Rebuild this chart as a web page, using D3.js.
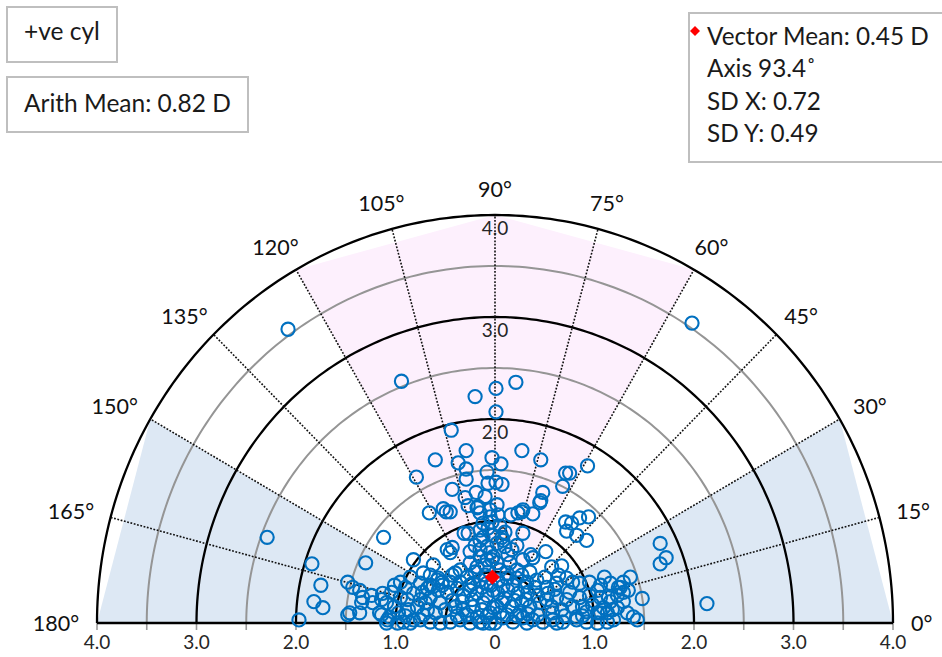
<!DOCTYPE html>
<html>
<head>
<meta charset="utf-8">
<script src="https://cdn.jsdelivr.net/npm/d3@7"></script>
<style>
  body { margin: 0; background: #fff; }
  svg { display: block; font-family: Lato, "Open Sans", sans-serif; }
</style>
</head>
<body>
<svg id="chart" width="942" height="657"></svg>
<script>
// Rings of the polar grid (dioptres); 0.5 and whole dioptres are black, the halves grey
const ringValues = [0.5, 1, 1.5, 2, 2.5, 3, 3.5, 4];
const blackRings = [0.5, 1, 2, 3, 4];
// Dotted spokes and axis labels (degrees)
const spokeAngles = [15, 30, 45, 60, 75, 90, 105, 120, 135, 150, 165];
const angleLabels = [0, 15, 30, 45, 60, 75, 90, 105, 120, 135, 150, 165, 180];
// Labels along the 90° spoke
const radialLabels = [1, 2, 3, 4];
// Horizontal axis ticks and labels
const axisTicks = [-4, -3.5, -3, -2.5, -2, -1.5, -1, -0.5, 0, 0.5, 1, 1.5, 2, 2.5, 3, 3.5, 4];
const axisLabelValues = [-4, -3, -2, -1, 0, 1, 2, 3, 4];
const axisLabelText = ["4.0", "3.0", "2.0", "1.0", "0", "1.0", "2.0", "3.0", "4.0"];
// Shaded sectors [from, to] in degrees
const blueSectors = [[0, 30], [150, 180]];
const pinkSectors = [[60, 120]];

// Cylinder vectors: [horizontal, vertical] components in dioptres
const cylPoints = [
  [-2.08,2.88],[1.98,2.94],[-0.94,2.37],[0.21,2.36],[0.01,2.30],[-0.20,2.22],[0.01,2.07],[-0.44,1.89],
  [-0.29,1.69],[-0.60,1.60],[0.27,1.69],[0.46,1.60],[-0.03,1.62],[-0.37,1.57],[0.06,1.56],[-0.29,1.51],
  [-0.08,1.48],[-0.79,1.43],[-0.29,1.41],[0.93,1.54],[0.71,1.47],[0.75,1.47],[0.68,1.34],[-0.07,1.37],
  [0.01,1.38],[0.07,1.36],[-0.43,1.31],[-0.19,1.28],[0.48,1.28],[-0.30,1.23],[-0.10,1.24],
  [-2.29,0.84],[-1.12,0.84],[1.66,0.78],[1.72,0.64],[1.66,0.58],[2.13,0.19],[1.48,0.24],[-1.84,0.58],
  [-1.30,0.59],[-1.75,0.37],[-1.82,0.21],[-1.73,0.15],[-1.97,0.03],
  [-0.27,1.15],[-0.17,1.14],[-0.49,1.09],[-0.66,1.08],[0.46,1.20],[0.27,1.09],[0.38,1.07],[0.16,1.06],
  [-0.05,1.04],[-0.31,0.88],[0.71,0.99],[0.77,0.98],[0.85,1.03],[0.94,1.04],[0.72,0.90],[0.82,0.86],
  [0.92,0.81],[0.28,0.88],[0.51,0.70],[0.36,0.67],[0.22,0.76],[-0.48,0.72],[-0.45,0.69],[-0.82,0.62],
  [-0.62,0.57],[0.57,0.55],[0.67,0.56],[-0.72,0.49],[-0.15,0.81],[-0.08,0.75],[-0.05,0.69],[-0.15,0.65],
  [-0.52,1.12],[-0.45,1.09],[-0.27,0.88],[-0.43,0.74],[-0.35,0.52],[-0.65,0.47],[-0.57,0.44],[-0.53,0.40],
  [-0.40,0.49],
  [-0.18,1.13],[-0.15,1.08],[-0.12,0.98],[-0.15,0.91],[-0.12,0.84],[-0.15,0.72],[-0.08,0.62],[-0.18,0.55],
  [-0.25,0.59],
  [0.45,1.18],[0.28,1.11],[0.03,1.06],[0.23,1.08],[0.17,0.72],[0.10,0.75],[0.02,0.78],[0.07,0.84],
  [0.38,0.64],[0.28,0.62],[-0.02,0.65],[0.02,0.59],[0.15,0.59],[0.22,0.52],
  [0.72,0.44],[0.78,0.40],[0.85,0.39],[0.95,0.40],[1.06,0.37],[1.16,0.39],[1.24,0.35],[0.62,0.39],
  [0.52,0.35],[0.42,0.42],[0.32,0.40],[0.22,0.44],[0.12,0.44],[0.03,0.42],
  [0.75,0.30],[0.85,0.25],[0.95,0.27],[1.06,0.25],[1.14,0.25],[1.23,0.27],[0.62,0.25],[0.53,0.29],
  [0.43,0.27],[0.33,0.30],[0.23,0.29],[0.13,0.32],[0.03,0.29],
  [0.78,0.16],[0.88,0.16],[0.98,0.18],[1.09,0.15],[1.18,0.13],[0.67,0.13],[0.57,0.16],[0.45,0.20],
  [0.35,0.16],[0.27,0.20],[0.17,0.16],[0.07,0.20],[-0.02,0.15],
  [0.68,0.01],[0.82,0.03],[0.92,0.01],[1.03,0.00],[1.13,0.01],[0.58,0.03],[0.48,0.01],[0.38,0.03],
  [0.28,0.05],[0.18,0.01],[0.08,0.05],[0.00,0.00],
  [1.36,0.45],[1.29,0.40],[1.26,0.35],[1.34,0.32],[1.16,0.21],[1.29,0.21],[1.23,0.15],[1.33,0.10],
  [1.39,0.06],[1.43,0.03],[1.13,0.10],[1.19,0.03],[1.03,0.10],[0.92,0.11],
  [1.03,0.32],[0.52,0.23],[0.72,0.23],[0.58,0.10],[0.25,0.10],[0.05,0.10],[-0.12,0.00],[1.06,0.10],
  [0.82,0.06],[0.62,0.00],[0.32,0.00],[1.29,0.30],
  [-1.13,0.29],[-1.04,0.30],[-0.95,0.25],[-0.88,0.23],[-0.82,0.29],[-0.73,0.30],[-0.65,0.25],[-0.57,0.32],
  [-0.48,0.30],[-0.38,0.34],[-0.32,0.27],[-0.25,0.32],[-0.18,0.29],[-0.08,0.27],[-0.02,0.32],
  [-1.09,0.20],[-1.01,0.16],[-1.14,0.08],[-1.06,0.06],[-0.97,0.10],[-0.87,0.13],[-0.78,0.16],[-0.68,0.13],
  [-0.60,0.10],[-0.50,0.13],[-0.40,0.16],[-0.32,0.13],[-0.22,0.16],[-0.13,0.13],[-0.05,0.10],[0.02,0.16],
  [-1.09,0.00],[-0.98,0.00],[-0.85,0.00],[-0.75,0.03],[-0.65,0.01],[-0.55,0.00],[-0.45,0.01],[-0.35,0.03],
  [-0.25,0.00],[-0.15,0.01],[-0.05,0.00],
  [-0.75,0.39],[-0.65,0.37],[-0.53,0.37],[-0.45,0.40],[-0.35,0.40],[-0.28,0.45],[-0.22,0.39],[-0.15,0.42],
  [-0.08,0.39],
  [-1.48,0.40],[-1.43,0.35],[-1.36,0.32],[-1.33,0.25],[-1.34,0.20],[-1.46,0.10],[-1.36,0.10],[-1.24,0.27],
  [-1.23,0.20],[-1.14,0.23],[-1.16,0.10],[-1.48,0.08],
  [-0.82,0.03],[-0.92,0.01],[-0.72,0.08],[-0.75,0.23],[-0.68,0.34],[-0.58,0.42],[-1.08,0.03],
  [-1.01,0.37],[-0.90,0.35],
  [-0.07,0.93],[0.05,0.95],[-0.02,0.86],[0.10,0.89],[-0.10,0.57],[0.05,0.52],[-0.03,0.62],[0.13,0.67],
  [-0.20,0.76],[-0.25,0.70],[0.02,1.16],[-0.05,1.11],[-0.03,0.99],[0.08,0.81],
  [-0.43,0.22],[-0.33,0.21],[-0.23,0.23],[-0.12,0.20],[0.10,0.24],[0.20,0.22],[0.31,0.23],[0.40,0.35],
  [0.30,0.36],[0.18,0.37],[0.08,0.36],[-0.04,0.37],[-0.13,0.35],[-0.25,0.37],[-0.38,0.07],[-0.28,0.08],
  [-0.18,0.06],[-0.08,0.07],[0.12,0.08],[0.22,0.07],[0.33,0.09],[0.43,0.08],[-0.55,0.20],[-0.62,0.36],
  [0.60,0.33],[0.50,0.45],[0.35,0.50],[-0.43,0.47],[-0.10,0.47],[0.12,0.49],[0.70,0.07],[0.88,0.07],
  [-0.70,0.20],[-0.90,0.07],[-0.95,0.40],[-0.20,0.50],[0.27,0.47],[0.64,0.47],[-0.85,0.45],[1.10,0.45]
];

// Vector mean: magnitude (D) and axis (deg)
const vectorMeanMag = [0.45];
const vectorMeanAxis = [93.4];

// Text boxes
const topLeftLabels = ["+ve cyl", "Arith Mean: 0.82 D"];
const statsLines = ["Vector Mean: 0.45 D", "Axis 93.4˚", "SD X: 0.72", "SD Y: 0.49"];

const svg = d3.select("#chart");
const x = d3.scaleLinear().domain([-4, 4]).range([97, 893]);
const y = d3.scaleLinear().domain([0, 4]).range([623, 215]);
const rad = d => d * Math.PI / 180;
const px = (r, a) => x(r * Math.cos(rad(a)));
const py = (r, a) => y(r * Math.sin(rad(a)));

const plot = svg.append("g");

// Shaded sectors, outlined with straight edges every 30°
function sectorPoly(from, to) {
  const pts = [[x(0), y(0)]];
  d3.range(from, to + 0.01, 30).forEach(a => pts.push([px(4, a), py(4, a)]));
  return pts;
}
plot.selectAll("polygon.blue").data(blueSectors).join("polygon")
  .attr("points", d => sectorPoly(d[0], d[1]).join(" "))
  .attr("fill", "#dde8f4");
plot.selectAll("polygon.pink").data(pinkSectors).join("polygon")
  .attr("points", d => sectorPoly(d[0], d[1]).join(" "))
  .attr("fill", "#fdf0fd");

// Rings
const arcLine = d3.line();
plot.selectAll("path.ring").data(ringValues).join("path")
  .attr("d", r => arcLine(d3.range(0, 180.01, 1).map(a => [px(r, a), py(r, a)])))
  .attr("fill", "none")
  .attr("stroke", r => blackRings.includes(r) ? "#000" : "#959595")
  .attr("stroke-width", r => blackRings.includes(r) ? 2.3 : 2);

// Dotted spokes from the 0.5 ring to the outer ring
plot.selectAll("line.spoke").data(spokeAngles).join("line")
  .attr("x1", a => px(0.5, a)).attr("y1", a => py(0.5, a))
  .attr("x2", a => px(4, a)).attr("y2", a => py(4, a))
  .attr("stroke", "#111").attr("stroke-width", 1.6)
  .attr("stroke-dasharray", "1.8 1.6");

// Horizontal axis
plot.selectAll("line.tick").data(axisTicks).join("line")
  .attr("x1", d => x(d)).attr("x2", d => x(d))
  .attr("y1", y(0)).attr("y2", y(0) + 7)
  .attr("stroke", "#9a9a9a").attr("stroke-width", 1.6);
plot.append("line")
  .attr("x1", x(-4)).attr("x2", x(4)).attr("y1", y(0)).attr("y2", y(0))
  .attr("stroke", "#000").attr("stroke-width", 2.3);
plot.selectAll("text.xlab").data(axisLabelValues).join("text")
  .attr("x", d => x(d)).attr("y", y(0) + 26)
  .attr("text-anchor", "middle").attr("font-size", 19).attr("fill", "#262626")
  .text((d, i) => axisLabelText[i]);

// Ring labels along the 90° spoke
plot.selectAll("text.rlab").data(radialLabels).join("text")
  .attr("x", x(0)).attr("y", d => y(d) + 20)
  .attr("text-anchor", "middle").attr("font-size", 19).attr("fill", "#262626")
  .text(d => d.toFixed(1));

// Data points
plot.append("g").selectAll("circle").data(cylPoints).join("circle")
  .attr("cx", d => x(d[0])).attr("cy", d => y(d[1])).attr("r", 6.6)
  .attr("fill", "none").attr("stroke", "#0070c0").attr("stroke-width", 2.1);

// Vector mean marker
const diamond = d3.symbol().type(d3.symbolSquare).size(115);
plot.selectAll("path.vm").data(vectorMeanMag).join("path")
  .attr("d", diamond)
  .attr("transform", (m, i) => `translate(${px(m, vectorMeanAxis[i])},${py(m, vectorMeanAxis[i])}) rotate(45)`)
  .attr("fill", "#ff0000");

// Angle labels around the outside
const labelR = 4.18;
angleLabels.forEach(a => {
  const t = svg.append("text").text(a + "°")
    .attr("font-size", 21.5).attr("fill", "#111")
    .attr("text-anchor", "middle").attr("dominant-baseline", "central");
  const w = t.node().getComputedTextLength();
  const c = Math.cos(rad(a)), s = Math.sin(rad(a));
  t.attr("x", px(labelR, a) + c * w / 2).attr("y", py(labelR, a) - s * 8);
});

// Text boxes
const boxes = svg.append("g");
boxes.append("rect").attr("x", 7).attr("y", 7).attr("width", 110).attr("height", 55);
boxes.append("rect").attr("x", 7).attr("y", 77).attr("width", 241).attr("height", 55);
boxes.append("rect").attr("x", 689).attr("y", 13).attr("width", 270).attr("height", 149);
boxes.selectAll("rect").attr("fill", "#fff").attr("stroke", "#bfbfbf").attr("stroke-width", 2);

boxes.selectAll("text.tl").data(topLeftLabels).join("text")
  .attr("x", 24).attr("y", (d, i) => i === 0 ? 40 : 112)
  .attr("font-size", 24.5).attr("fill", "#1a1a1a").text(d => d);

boxes.selectAll("text.st").data(statsLines).join("text")
  .attr("x", 707).attr("y", (d, i) => 45 + i * 32.4)
  .attr("font-size", 24.3).attr("fill", "#1a1a1a").text(d => d);

boxes.append("path")
  .attr("d", d3.symbol().type(d3.symbolSquare).size(50))
  .attr("transform", "translate(695,31) rotate(45)")
  .attr("fill", "#ff0000");
</script>
</body>
</html>
